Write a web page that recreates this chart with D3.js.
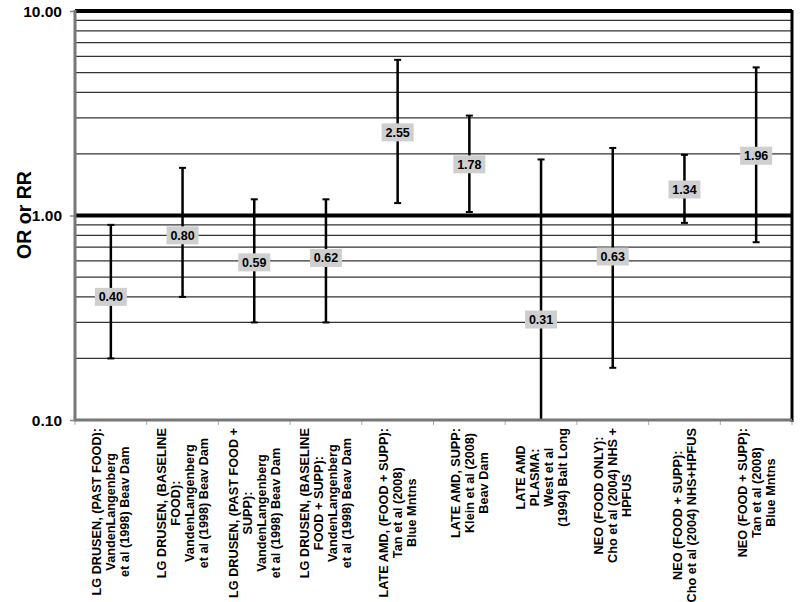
<!DOCTYPE html>
<html>
<head>
<meta charset="utf-8">
<script src="https://cdn.jsdelivr.net/npm/d3@7"></script>
<style>
  body { margin: 0; background: #fff; }
  svg { display: block; font-family: "Liberation Sans", Arial, sans-serif; }
</style>
</head>
<body>
<svg id="chart" width="800" height="602"></svg>
<script>
// categories, each one a list of label lines
const categories = [
  ["LG DRUSEN, (PAST FOOD):", "VandenLangenberg", "et al (1998) Beav Dam"],
  ["LG DRUSEN, (BASELINE", "FOOD):", "VandenLangenberg", "et al (1998) Beav Dam"],
  ["LG DRUSEN, (PAST FOOD +", "SUPP):", "VandenLangenberg", "et al (1998) Beav Dam"],
  ["LG DRUSEN, (BASELINE", "FOOD + SUPP):", "VandenLangenberg", "et al (1998) Beav Dam"],
  ["LATE AMD, (FOOD + SUPP):", "Tan et al (2008)", "Blue Mntns"],
  ["LATE AMD, SUPP:", "Klein et al (2008)", "Beav Dam"],
  ["LATE AMD", "PLASMA:", "West et al", "(1994) Balt Long"],
  ["NEO (FOOD ONLY):", "Cho et al (2004) NHS +", "HPFUS"],
  ["NEO (FOOD + SUPP):", "Cho et al (2004) NHS+HPFUS"],
  ["NEO (FOOD + SUPP):", "Tan et al (2008)", "Blue Mntns"]
];
const estimates = [0.40, 0.80, 0.59, 0.62, 2.55, 1.78, 0.31, 0.63, 1.34, 1.96];
const lower     = [0.20, 0.40, 0.30, 0.30, 1.15, 1.04, 0.10, 0.18, 0.92, 0.74];
const upper     = [0.90, 1.71, 1.20, 1.20, 5.77, 3.08, 1.88, 2.14, 1.98, 5.30];
const yTicks = [0.1, 1, 10];
const yTickLabels = ["0.10", "1.00", "10.00"];
const gridValues = [0.2,0.3,0.4,0.5,0.6,0.7,0.8,0.9,2,3,4,5,6,7,8,9];

const svg = d3.select("#chart");
const plotLeft = 75, plotRight = 792, plotTop = 11, plotBottom = 420;

const x = d3.scaleBand().domain(d3.range(categories.length)).range([plotLeft, plotRight]);
const y = d3.scaleLog().domain([0.1, 10]).range([plotBottom, plotTop]);

// minor grid lines
svg.selectAll(".grid")
  .data(gridValues)
  .enter()
  .append("line")
  .attr("x1", plotLeft).attr("x2", plotRight)
  .attr("y1", d => y(d)).attr("y2", d => y(d))
  .attr("stroke", "#333")
  .attr("stroke-width", 1.2);

// thick lines at 1 and 10
svg.selectAll(".major")
  .data([1, 10])
  .enter()
  .append("line")
  .attr("x1", plotLeft).attr("x2", plotRight)
  .attr("y1", d => y(d)).attr("y2", d => y(d))
  .attr("stroke", "#000")
  .attr("stroke-width", 4);

// right border
svg.append("line")
  .attr("x1", plotRight).attr("x2", plotRight)
  .attr("y1", plotTop - 1).attr("y2", plotBottom + 2)
  .attr("stroke", "#000").attr("stroke-width", 3);

// y axis: tick marks from d3, labels drawn by hand
const yAxis = svg.append("g")
  .attr("transform", `translate(${plotLeft},0)`)
  .call(d3.axisLeft(y).tickValues(yTicks).tickFormat("").tickSize(5));
yAxis.select(".domain").remove();
yAxis.selectAll(".tick line").attr("stroke", "#888").attr("stroke-width", 1.5);

svg.selectAll(".ylab")
  .data(yTicks)
  .enter()
  .append("text")
  .attr("x", plotLeft - 13)
  .attr("y", d => y(d) + 5.5)
  .attr("text-anchor", "end")
  .attr("font-size", 15.5)
  .attr("font-weight", "bold")
  .attr("fill", "#000")
  .text((d, i) => yTickLabels[i]);

svg.append("line")
  .attr("x1", plotLeft).attr("x2", plotLeft)
  .attr("y1", plotTop - 1).attr("y2", plotBottom + 1.5)
  .attr("stroke", "#777").attr("stroke-width", 3);

// x axis ticks between categories
svg.selectAll(".xtick")
  .data(d3.range(categories.length + 1))
  .enter()
  .append("line")
  .attr("x1", i => plotLeft + i * x.bandwidth()).attr("x2", i => plotLeft + i * x.bandwidth())
  .attr("y1", plotBottom).attr("y2", plotBottom + 5)
  .attr("stroke", "#aaa").attr("stroke-width", 1);

// whiskers
const bars = svg.append("g");
categories.forEach((c, i) => {
  const cx = x(i) + x.bandwidth() / 2;
  bars.append("line")
    .attr("x1", cx).attr("x2", cx)
    .attr("y1", y(upper[i])).attr("y2", y(lower[i]))
    .attr("stroke", "#000").attr("stroke-width", 2.5);
  bars.append("line")
    .attr("x1", cx - 3.5).attr("x2", cx + 3.5)
    .attr("y1", y(upper[i])).attr("y2", y(upper[i]))
    .attr("stroke", "#000").attr("stroke-width", 2);
  if (lower[i] > 0.1) {
    bars.append("line")
      .attr("x1", cx - 3.5).attr("x2", cx + 3.5)
      .attr("y1", y(lower[i])).attr("y2", y(lower[i]))
      .attr("stroke", "#000").attr("stroke-width", 2);
  }
});

svg.append("line")
  .attr("x1", plotLeft).attr("x2", plotRight)
  .attr("y1", plotBottom).attr("y2", plotBottom)
  .attr("stroke", "#777").attr("stroke-width", 3);

// value labels
const labels = svg.append("g");
estimates.forEach((v, i) => {
  const cx = x(i) + x.bandwidth() / 2;
  const cy = y(v);
  labels.append("rect")
    .attr("x", cx - 16).attr("y", cy - 9)
    .attr("width", 32).attr("height", 18)
    .attr("fill", "#cfcfcf");
  labels.append("text")
    .attr("x", cx).attr("y", cy + 4.5)
    .attr("text-anchor", "middle")
    .attr("font-size", 12.5).attr("font-weight", "bold")
    .text(d3.format(".2f")(v));
});

// category labels, rotated
const lineGap = 14;
categories.forEach((lines, i) => {
  const cx = x(i) + x.bandwidth() / 2;
  const g = svg.append("g")
    .attr("transform", `translate(${cx},${plotBottom + 8}) rotate(-90)`);
  const texts = lines.map((s, k) => g.append("text")
    .attr("font-size", 12.7).attr("font-weight", "bold")
    .attr("text-anchor", "middle")
    .attr("y", (k - (lines.length - 1) / 2) * lineGap + 4.5)
    .text(s));
  const maxW = d3.max(texts, t => t.node().getComputedTextLength());
  texts.forEach(t => t.attr("x", -maxW / 2));
});

// y title
svg.append("text")
  .attr("transform", "translate(31,215) rotate(-90)")
  .attr("text-anchor", "middle")
  .attr("font-size", 19.5).attr("font-weight", "bold")
  .text("OR or RR");
</script>
</body>
</html>
